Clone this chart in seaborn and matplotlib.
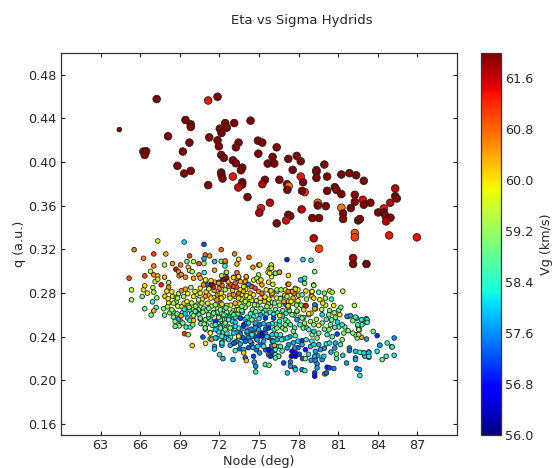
"""Eta vs Sigma Hydrids: node vs q scatter, coloured by geocentric velocity."""

import matplotlib
matplotlib.use("Agg")
import matplotlib.pyplot as plt
import matplotlib.cm as cm
import matplotlib.colors as mcolors
import seaborn as sns

# Large markers (upper group)
big_node = [
    67.25, 71.15, 71.86, 69.43, 69.83, 69.83, 72.44, 73.12, 74.36, 72.56,
    72.03, 72.16, 68.11, 71.23, 69.73, 71.86, 73.45, 73.25, 71.96, 74.92,
    75.25, 74.95, 66.24, 66.45, 66.34, 69.23, 72.14, 72.34, 73.02, 73.25,
    73.73, 73.63, 68.82, 69.33, 69.83, 72.14, 72.16, 72.24, 73.02, 73.73,
    73.73, 73.43, 71.15, 74.13, 76.34, 76.03, 77.86, 77.22, 78.16, 75.66,
    76.16, 77.55, 79.95, 79.35, 79.35, 79.35, 80.16, 81.24, 81.85, 82.36,
    82.94, 78.16, 78.34, 75.45, 75.25, 76.54, 77.12, 77.25, 77.15, 78.46,
    78.26, 80.16, 80.74, 80.87, 81.24, 82.26, 82.86, 82.26, 82.94, 83.44,
    85.32, 85.32, 85.44, 84.94, 79.45, 79.45, 80.06, 81.24, 81.95, 81.37,
    81.37, 84.03, 84.46, 84.46, 84.58, 84.96, 84.63, 82.51, 82.64, 75.83,
    75.15, 75.02, 78.23, 77.22, 77.37, 77.05, 76.34, 79.04, 79.55, 79.15,
    82.26, 82.26, 84.86, 86.96, 79.55, 82.13, 82.13, 83.14,
]
big_q = [
    .4578, .4565, .4599, .4386, .4346, .4322, .4358, .4358, .4380, .4316,
    .4307, .4267, .4237, .4227, .4179, .4200, .4179, .4136, .4145, .4197,
    .4179, .4078, .4097, .4100, .4066, .4097, .4066, .4039, .4017, .3990,
    .3950, .3926, .3966, .3896, .3920, .3905, .3880, .3850, .3868, .3816,
    .3795, .3768, .3789, .3680, .4136, .4048, .4057, .4030, .4008, .3987,
    .3987, .3929, .3978, .3926, .3911, .3856, .3868, .3887, .3899, .3880,
    .3829, .3868, .3816, .3838, .3798, .3838, .3798, .3780, .3746, .3725,
    .3737, .3737, .3771, .3746, .3707, .3701, .3655, .3637, .3610, .3628,
    .3759, .3689, .3667, .3628, .3628, .3603, .3597, .3582, .3579, .3530,
    .3479, .3539, .3576, .3539, .3509, .3491, .3457, .3466, .3479, .3628,
    .3579, .3536, .3567, .3518, .3506, .3466, .3439, .3488, .3488, .3302,
    .3351, .3311, .3329, .3311, .3207, .3122, .3067, .3067,
]
big_vg = [
    62, 61.35, 62, 62, 62, 62, 62, 62, 62, 62,
    62, 62, 62, 62, 62, 62, 62, 62, 62, 62,
    62, 62, 62, 62, 62, 62, 62, 62, 62, 62,
    62, 62, 62, 62, 62, 62, 62, 62, 61.35, 62,
    62, 61.6, 62, 62, 62, 62, 62, 62, 62, 62,
    62, 62, 62, 62, 62, 62, 62, 62, 62, 62,
    62, 61.35, 62, 62, 61.7, 62, 62, 60.7, 62, 61.2,
    62, 62, 62, 62, 62, 62, 61.5, 62, 62, 62,
    61.7, 62, 62, 61.7, 60.7, 62, 62, 60.7, 62, 62,
    62, 62, 61.4, 62, 61.9, 62, 61.7, 62, 62, 61.7,
    61.35, 61.7, 61.7, 62, 62, 61.5, 62, 62, 62, 61.7,
    60.9, 61.1, 61.35, 61.4, 61.0, 61.8, 62, 62,
]

# Small markers (lower group); the first point is the
# lone small dark dot near (64.4, 0.43)
small_node = [
    64.42,
    67.33, 69.33, 70.83, 65.54, 66.25, 67.03, 67.94, 69.74, 70.93, 71.26,
    70.83, 72.14, 73.15, 74.24, 73.46, 73.33, 71.63, 72.14, 72.44, 72.42,
    67.03, 67.84, 68.45, 69.06, 69.54, 70.04, 70.45, 70.83, 69.64, 68.7,
    68.9, 69.74, 69.94, 66.78, 66.35, 65.16, 67.03, 67.33, 67.84, 67.13,
    67.33, 68.95, 69.11, 69.43, 70.04, 70.45, 70.85, 71.63, 72.52, 73.33,
    72.44, 71.94, 71.43, 72.17, 70.95, 71.36, 70.55, 71.05, 73.08, 73.46,
    74.04, 74.47, 73.84, 74.97, 74.54, 67.59, 68.15, 66.25, 66.35, 66.55,
    66.96, 67.03, 65.34, 65.34, 66.15, 67.26, 66.35, 66.93, 67.21, 67.03,
    66.83, 68.15, 68.02, 68.4, 67.87, 68.12, 68.15, 68.73, 69.11, 69.43,
    69.84, 70.04, 68.73, 69.33, 68.07, 67.77, 68.4, 67.84, 72.44, 72.54,
    75.93, 75.78, 75.68, 76.56, 76.23, 77.22, 77.12, 78.33, 78.94, 79.22,
    78.46, 78.15, 78.46, 77.19, 77.75, 79.14, 77.45, 77.65, 75.85, 76.36,
    75.98, 76.64, 79, 78.96, 78.26, 76.18, 75.42, 77.55, 76.99, 78.51,
    79.27, 77.19, 74.97, 74.84, 74.97, 74.03, 73.96, 74.41, 74.21, 74.71,
    75.22, 74.97, 74.59, 75.09, 75.22, 74.66, 75.6, 73.32, 73.2, 73.07,
    73.45, 73.07, 72.56, 72.24, 71.93, 72.44, 73.58, 73.83, 73.45, 73.07,
    72.14, 72.14, 73.45, 73.96, 73.2, 72.19, 72.56, 73.7, 72.8, 74.3,
    69.36, 69.64, 69.94, 70.95, 70.75, 71.31, 71.43, 71.81, 71.63, 71.63,
    72.19, 72.19, 72.44, 72.01, 72.27, 73.03, 72.82, 73.2, 73.13, 73.46,
    73.58, 73.96, 73.84, 73.84, 73.96, 74.04, 74.54, 74.59, 75.05, 74.64,
    74.75, 74.75, 75.48, 75.76, 75.73, 75.99, 75.73, 76.24, 76.16, 76.49,
    75.86, 77.15, 78.26, 78.47, 79.22, 79.22, 79.98, 80.11, 76.87, 77.38,
    77.38, 77.71, 77.76, 78.52, 79.22, 79.27, 79.4, 79.4, 79.78, 79.91,
    80.16, 80.67, 80.34, 80.87, 80.87, 81.35, 81.63, 81.85, 81.85, 82.31,
    82.31, 82.64, 82.94, 83.32, 83.02, 83.32, 82.41, 82.31, 82.61, 82.64,
    83.95, 84.16, 84.71, 85.04, 84.64, 84.33, 85.24, 85.24, 83.95, 83.65,
    83.14, 82.77, 82.44, 82.31, 82.11, 82.61, 82.51, 83.12, 83.12, 82.77,
    82.39, 82.11, 81.73, 81.12, 80.79, 80.94, 81.3, 81.42, 81.3, 80.92,
    80.79, 81.17, 80.74, 80.34, 80.16, 80.41, 80.74, 80.29, 79.78, 79.78,
    79.53, 79.15, 78.64, 78.77, 78.39, 79.27, 78.57, 77.2, 77.88, 76.57,
    77.25, 79.15, 81.35, 80.36, 79.52, 79.95, 80.54, 79.02, 79.02, 79.15,
    80.03, 80.49, 80.66, 79.83, 82.23, 79.22, 79.22, 78.94, 78.39, 78.77,
    77.88, 78.13, 76.87, 77.25, 77.63, 77.75, 77.5, 77.2, 77.12, 77.58,
    77.43, 77.2, 75.98, 76.36, 75.91, 76.67, 76.62, 76.24, 76.54, 75.05,
    75.93, 75.93, 75.81, 75.73, 75.15, 81.67, 81.93, 82.31, 82.76, 83.19,
    83.19, 82.8, 82.48, 82.56, 82.56, 85.09, 84.15, 83.32, 82.94, 83.32,
    68.52, 68.65, 68.65, 68.9, 69.11, 69.33, 69.74, 69.41, 69.6, 69.23,
    69.48, 69.79, 69.99, 69.75, 70.04, 70.04, 70.24, 70.55, 70.93, 70.85,
    70.93, 71.31, 71.69, 71.18, 71.56, 71.94, 71.69, 72.07, 72.44, 72.07,
    72.44, 72.07, 72.7, 72.95, 73.33, 73.2, 73.58, 73.84, 73.46, 72.95,
    73.08, 72.57, 73.46, 73.08, 72.7, 72.19, 72.19, 71.69, 74.1, 74.1,
    74.47, 74.72, 74.85, 74.1, 74.47, 74.85, 77, 77, 77.38, 77.6,
    77.13, 77.25, 77.13, 77.5, 77.76, 77.71, 77.45, 77.76, 78.26, 78.52,
    78.57, 78.26, 79.27, 79.65, 79.15, 79.53, 79.4, 79.02, 78.77, 79.15,
    79.53, 76.49, 76.24, 76.49, 76.24, 76.7, 76.62, 77.5, 77.88, 78.26,
    70.17, 70.55, 71.18, 71.56, 71.94, 72.32, 72.7, 73.08, 73.46, 73.84,
    73.58, 74.21, 74.72, 75.1, 75.48, 75.73, 76.11, 76.36, 75.23, 75.23,
    74.97, 75.73, 75.99, 74.47, 74.09, 72.82, 73.2, 72.44, 72.07, 71.69,
    70.93, 74.34, 74.85, 75.35, 76.36, 76.07, 76.62, 75.35, 74.9, 75.6,
    70.8, 71.43, 71.94, 70.55, 70.93, 71.36, 71.81, 71.11, 71.69, 70.68,
    70.42, 69.54, 69.29, 68.83, 68.53, 69.7, 70.2, 71.2, 72.5, 73.7,
]
small_q = [
    .4298,
    .3278, .3268, .3247, .3198, .3119, .3159, .3159, .3141, .3150, .3141,
    .3116, .3198, .3159, .3128, .3110, .3067, .3089, .3092, .3083, .3049,
    .3049, .3058, .3071, .3058, .3089, .3089, .3071, .3071, .3037, .3019,
    .2997, .3007, .2997, .3000, .2958, .2937, .2967, .2958, .2946, .2906,
    .2927, .2958, .2970, .2946, .2937, .2967, .2988, .3010, .2988, .2988,
    .2927, .2900, .2882, .2958, .2921, .2915, .2937, .2876, .2946, .2946,
    .2946, .2860, .2860, .3058, .3037, .2876, .2897, .2830, .2867, .2800,
    .2851, .2809, .2830, .2739, .2769, .2757, .2657, .2720, .2669, .2638,
    .2599, .2854, .2818, .2812, .2772, .2748, .2708, .2760, .2821, .2836,
    .2851, .2769, .2723, .2708, .2675, .2657, .2647, .2599, .3095, .2991,
    .3049, .3021, .2991, .2991, .2982, .2961, .3107, .3107, .3101, .2997,
    .2936, .2921, .2890, .2881, .2845, .2875, .2815, .2799, .2821, .2815,
    .2784, .2754, .2815, .2778, .2784, .2708, .2723, .2708, .2699, .2687,
    .2687, .2678, .2967, .2936, .2906, .2951, .2906, .2860, .2881, .2845,
    .2875, .2815, .2784, .2754, .2799, .2693, .2678, .2936, .2891, .2860,
    .2951, .2942, .2942, .2921, .2891, .2830, .2830, .2815, .2799, .2784,
    .2799, .2754, .2754, .2723, .2708, .2699, .2687, .2678, .2754, .2760,
    .2428, .2419, .2319, .2340, .2398, .2440, .2379, .2389, .2312, .2288,
    .2352, .2322, .2389, .2236, .2200, .2191, .2322, .2273, .2343, .2389,
    .2334, .2358, .2282, .2252, .2206, .2182, .2303, .2221, .2252, .2169,
    .2130, .2078, .2145, .2139, .2236, .2267, .2282, .2236, .2322, .2221,
    .2221, .2069, .2099, .2090, .2069, .2039, .2060, .2069, .2160, .2169,
    .2130, .2115, .2099, .2200, .2221, .2182, .2151, .2115, .2191, .2221,
    .2121, .2109, .2115, .2242, .2200, .2230, .2160, .2297, .2273, .2206,
    .2267, .2258, .2252, .2261, .2221, .2212, .2109, .2191, .2099, .2045,
    .2267, .2322, .2343, .2309, .2221, .2191, .2230, .2389, .2410, .2449,
    .2379, .2395, .2389, .2419, .2434, .2465, .2495, .2535, .2565, .2556,
    .2571, .2547, .2586, .2602, .2577, .2535, .2510, .2434, .2373, .2425,
    .2343, .2328, .2297, .2343, .2419, .2510, .2486, .2602, .2602, .2526,
    .2504, .2510, .2480, .2602, .2577, .2656, .2684, .2669, .2632, .2593,
    .2882, .2870, .2818, .2821, .2809, .2800, .2809, .2815, .2769, .2754,
    .2754, .2745, .2687, .2708, .2687, .2693, .2657, .2617, .2647, .2611,
    .2636, .2580, .2724, .2724, .2800, .2836, .2815, .2815, .2769, .2754,
    .2724, .2684, .2800, .2830, .2821, .2830, .2748, .2982, .2991, .3058,
    .3058, .3028, .2982, .2900, .2921, .2587, .2593, .2580, .2556, .2556,
    .2532, .2510, .2510, .2465, .2419, .2306, .2322, .2252, .2252, .2221,
    .2580, .2541, .2495, .2562, .2593, .2653, .2647, .2611, .2571, .2526,
    .2489, .2489, .2510, .2550, .2550, .2593, .2632, .2562, .2556, .2516,
    .2471, .2434, .2465, .2580, .2623, .2587, .2541, .2647, .2593, .2556,
    .2526, .2495, .2571, .2617, .2647, .2580, .2571, .2510, .2480, .2480,
    .2434, .2434, .2404, .2343, .2374, .2404, .2343, .2389, .2580, .2526,
    .2556, .2526, .2465, .2434, .2404, .2374, .2510, .2465, .2510, .2450,
    .2389, .2328, .2297, .2267, .2252, .2297, .2221, .2221, .2364, .2282,
    .2373, .2328, .2267, .2282, .2328, .2328, .2389, .2419, .2465, .2449,
    .2434, .2312, .2282, .2221, .2206, .2373, .2419, .2602, .2556, .2571,
    .2632, .2571, .2602, .2617, .2577, .2602, .2556, .2602, .2647, .2504,
    .2571, .2526, .2480, .2602, .2571, .2510, .2571, .2480, .2434, .2404,
    .2465, .2480, .2419, .2419, .2449, .2480, .2495, .2465, .2480, .2510,
    .2480, .2358, .2373, .2358, .2373, .2358, .2312, .2312, .2312, .2400,
    .2875, .2875, .2891, .2799, .2769, .2754, .2738, .2708, .2693, .2708,
    .2738, .2723, .2769, .2754, .2708, .2670, .2680, .2660, .2665, .2640,
]
small_vg = [
    62,
    59.6, 58.1, 57.2, 60.7, 60.6, 61, 60.3, 61, 60.9, 60.5,
    57.8, 60.8, 60.6, 60.8, 60, 60.3, 57.9, 59, 58.5, 58.5,
    60.6, 59.4, 60.5, 60.6, 58.9, 59.3, 61, 59.4, 60.1, 61.4,
    60.6, 59.9, 59.3, 59.6, 61, 61, 60.5, 60.2, 60.3, 59.6,
    60, 60.5, 60.6, 60.5, 60.4, 60.6, 58.4, 60.4, 59.6, 60.8,
    61.8, 61, 61.7, 59.3, 59.8, 60, 60.3, 57.3, 60, 60,
    60.5, 60.8, 60, 60.1, 60.5, 61.3, 59.3, 60, 60.1, 60,
    59.5, 59.3, 59.5, 59.3, 58.9, 59.1, 59, 58.6, 58.7, 60.3,
    59.1, 60.5, 60, 60, 60.2, 59.9, 60, 59.3, 60.6, 60.4,
    59.3, 60, 59, 60, 59.4, 59, 59.2, 58.8, 60.6, 59.2,
    60, 59.5, 59.9, 60.4, 58.7, 60, 57, 58.1, 58.5, 59.2,
    58.6, 58, 59, 60.5, 59.9, 60, 60, 60.3, 60.1, 59.3,
    60.6, 59.2, 59.8, 59.3, 58.6, 59, 60.2, 59.5, 57.4, 61.3,
    58.5, 58.4, 59.2, 59.3, 60, 60.3, 60.5, 60.8, 57.6, 61,
    60.4, 60.6, 60, 59.9, 60.8, 59.2, 59.3, 60.7, 60.7, 61,
    60, 60.1, 61.8, 61.8, 60.6, 59.3, 60, 60.4, 60.9, 60.5,
    60.1, 60, 60.1, 59.3, 60.3, 60, 59.5, 59, 59.5, 59.6,
    61.1, 59.2, 60.1, 60, 57.3, 59.8, 60.4, 58, 57.8, 58,
    58.2, 57.9, 57.8, 58.4, 57.9, 57.9, 57.8, 58.5, 58.1, 60,
    57.8, 57.4, 57.8, 60.2, 57.4, 60.2, 57.8, 57.2, 57.6, 57.7,
    57.6, 58.4, 58.6, 59, 57.5, 57.2, 56.8, 58.5, 60.4, 58.7,
    57, 58, 57.5, 58.6, 57, 56.8, 57.6, 57.4, 57.2, 57.5,
    57.6, 57.8, 58, 59, 57.8, 57.6, 57.6, 57.7, 57.7, 58,
    57, 57.5, 57.1, 59, 58.5, 58, 57.7, 57.5, 57.4, 58,
    57.9, 58.5, 57.7, 57.9, 58, 58.4, 57.6, 57.8, 57.7, 58.2,
    58.2, 57.7, 58.5, 58.4, 58.5, 58.8, 58.2, 57.6, 57, 58.9,
    57.7, 60.4, 59.2, 59.3, 59, 59.8, 59.4, 58.3, 58.4, 58.5,
    58.6, 59, 57.5, 59.9, 59.1, 58.1, 58.4, 59, 59.2, 57.2,
    57.8, 58.4, 57.7, 58.1, 58.4, 59, 58.5, 59, 58.1, 59,
    59.8, 59.1, 58.5, 59.9, 58.5, 60.4, 61.3, 60.5, 59.9, 60,
    60.5, 59.3, 59.6, 60, 58.6, 59, 59.2, 59.9, 60, 60.1,
    59.2, 58.5, 60, 60, 59.6, 57.6, 60.4, 60, 60, 60,
    59, 59.2, 60.4, 60, 60.4, 60, 60.6, 60.7, 59.3, 60.3,
    60, 60, 60, 59.3, 60.1, 59.3, 59.2, 58.9, 60.5, 60.1,
    59.5, 60, 60, 60, 60, 57.6, 57.7, 58.5, 58.4, 58.3,
    58.5, 58.6, 58.5, 59.3, 59, 58.5, 57.8, 58, 58.1, 58.4,
    59, 59, 58.8, 57.8, 60.3, 58.2, 58.4, 58, 58, 58.9,
    58.5, 58.4, 59, 58.5, 60.2, 59.3, 58.7, 58.5, 59, 59.2,
    58.9, 59.8, 58, 58.5, 59, 59.8, 57, 59.2, 59, 58.6,
    59, 58.6, 58.4, 59, 59.9, 58.5, 57, 57.2, 58.5, 59,
    58, 58.5, 60, 57.3, 58.1, 58.6, 58.2, 58, 58.5, 59,
    59, 57.8, 58, 57.8, 58.1, 57.8, 59, 59.1, 58.5, 59,
    58, 57.8, 57.7, 56.7, 56.8, 57.6, 56.6, 56.5, 57, 56.9,
    58.5, 57.8, 57.8, 57.7, 58.1, 57.8, 59, 59, 58.5, 58,
    59, 59, 58.5, 59, 58.5, 58.5, 58.9, 59, 57.7, 59,
    58.5, 59, 59, 59, 59, 58.5, 58.5, 58.5, 60, 57.1,
    57.3, 58.1, 57.8, 57.8, 57, 57.8, 57.2, 59, 56.7, 56.6,
    57.8, 57, 58, 58.5, 57.8, 59, 58.1, 59, 58.5, 58.5,
    59, 57.8, 57.8, 57.8, 57.8, 57.8, 58.5, 58.5, 58.1, 58,
    60.5, 61.8, 60.5, 59.9, 60.5, 59.9, 60.5, 60, 59.3, 59.3,
    59.3, 59.9, 59.3, 59.3, 59.3, 59, 59.3, 59, 58.8, 58.7,
]

# Centre of the lower cloud, where markers overlap and are only estimates
dense_node = [
    70.3, 70.7, 71.0, 71.6, 72.0, 72.7, 73.0, 73.3, 73.7, 74.0,
    74.35, 74.8, 71.2, 71.55, 71.85, 72.3, 72.75, 73.2, 73.65, 74.05,
    69.9, 70.3, 70.8, 71.0, 71.4, 71.85, 72.1, 72.35, 72.85, 73.05,
    73.35, 73.55, 73.95, 74.2, 74.5, 74.85, 75.15, 75.45, 75.85, 76.25,
    76.55, 76.8, 75.1, 75.75, 76.0, 74.45, 74.1, 77.85, 77.95, 78.2,
    69.2, 69.9, 70.45, 70.75, 71.3, 71.45, 71.85, 72.25, 72.55, 72.8,
    73.0, 73.4, 73.75, 73.95, 74.35, 74.6, 74.75, 75.0, 75.3, 75.55,
    75.85, 76.1, 76.4, 76.75, 77.05, 77.3, 77.65, 77.0, 76.55, 76.25,
    70.6, 71.0, 71.45, 71.9, 72.3, 72.7, 73.2, 73.65, 74.0, 74.4,
    74.75, 75.05, 75.35, 75.5, 76.0, 76.15, 76.55, 76.8, 77.2, 77.7,
    71.3, 71.95, 72.3, 72.55, 72.85, 73.3, 73.6, 73.8, 74.2, 74.55,
    74.75, 75.0, 75.5, 75.7, 76.0, 76.3, 76.85, 77.35, 77.75, 77.95,
    73.3, 73.55, 74.2, 74.45, 74.8, 75.1, 75.5, 75.95, 76.1, 76.75,
    77.6, 77.95, 78.05, 78.3, 78.75, 78.9, 78.95, 79.0, 79.45, 79.95,
    80.1, 80.45, 80.55, 80.3, 79.95, 78.35, 78.45, 78.1, 78.9, 79.35,
    79.75, 80.1, 80.5, 80.05, 80.35, 80.7, 81.05, 81.05, 81.5, 81.75,
    68.85, 69.15, 69.6, 70.0, 70.4, 68.25, 68.5, 68.8, 68.95, 69.05,
    74.6, 75.55, 75.45, 76.05, 75.95, 74.0, 73.6, 72.85, 72.65, 72.2,
    71.55, 72.0, 71.2, 70.55, 70.15, 69.6, 68.9, 68.45, 70.9, 71.65,
    77.0, 76.95, 78.6, 78.55, 78.0, 77.95, 76.35, 75.7, 79.6, 81.2,
]
dense_q = [
    .2790, .2745, .2810, .2825, .2845, .2860, .2825, .2855, .2790, .2835,
    .2800, .2730, .2780, .2760, .2785, .2770, .2780, .2770, .2745, .2775,
    .2710, .2690, .2660, .2640, .2680, .2660, .2705, .2650, .2690, .2640,
    .2680, .2700, .2670, .2700, .2650, .2690, .2660, .2640, .2680, .2650,
    .2690, .2640, .2720, .2745, .2715, .2735, .2740, .2690, .2730, .2690,
    .2620, .2610, .2605, .2625, .2560, .2600, .2625, .2560, .2625, .2585,
    .2540, .2610, .2625, .2560, .2610, .2585, .2630, .2565, .2620, .2605,
    .2625, .2605, .2620, .2590, .2615, .2640, .2600, .2555, .2540, .2515,
    .2520, .2510, .2505, .2520, .2510, .2490, .2530, .2470, .2490, .2470,
    .2510, .2510, .2520, .2470, .2520, .2465, .2505, .2480, .2535, .2480,
    .2380, .2445, .2440, .2400, .2395, .2440, .2425, .2390, .2395, .2430,
    .2395, .2415, .2430, .2395, .2365, .2420, .2380, .2400, .2410, .2360,
    .2360, .2290, .2300, .2340, .2280, .2330, .2280, .2315, .2230, .2270,
    .2345, .2300, .2240, .2200, .2240, .2310, .2185, .2360, .2225, .2295,
    .2335, .2260, .2400, .2465, .2470, .2480, .2525, .2510, .2540, .2560,
    .2650, .2560, .2555, .2690, .2640, .2620, .2645, .2490, .2490, .2455,
    .2680, .2675, .2690, .2650, .2650, .2620, .2630, .2610, .2500, .2545,
    .2920, .2830, .2765, .2880, .2950, .2885, .2905, .2880, .2905, .2870,
    .2855, .2795, .2840, .2845, .2815, .2795, .2795, .2770, .2890, .2900,
    .2830, .2780, .2745, .2820, .2780, .2830, .2755, .2700, .2740, .2670,
]
dense_vg = [
    59.6, 59.9, 60.1, 60.4, 60.6, 60.7, 60.2, 60.9, 59.8, 60.1,
    60.3, 59.6, 60.3, 59.7, 60.2, 59.9, 60.4, 60, 59.6, 59.8,
    59.4, 59.2, 59, 58.8, 59.4, 59.1, 59.6, 58.9, 59.7, 59,
    59.5, 59.9, 59.2, 59.3, 58.8, 59.1, 59, 58.7, 59.2, 58.9,
    59.4, 58.7, 59.5, 59.8, 59.4, 59.7, 59.9, 59.3, 59.6, 59.1,
    58.8, 58.6, 58.7, 59, 58.6, 58.9, 58.9, 58.4, 59, 58.6,
    58.3, 58.8, 58.5, 58, 58.6, 58.2, 58.8, 58.1, 58.6, 58.3,
    58.7, 58.4, 58.5, 58.2, 58.4, 58.8, 59, 58.6, 58.3, 58.6,
    58.6, 58.8, 58.7, 58.6, 58.2, 58.4, 58, 57.7, 58.2, 57.6,
    57.6, 57.4, 57.9, 57.4, 58.2, 58.6, 58.5, 58.8, 59, 58.7,
    58.4, 58.2, 58.3, 58.1, 58.3, 57.8, 57.5, 57.3, 57.6, 57.5,
    57.3, 57.1, 57.6, 57.2, 57.6, 58.2, 58, 57.8, 58.6, 58,
    57.7, 57.3, 57.2, 57.3, 57.5, 57.4, 57.3, 57.6, 57.3, 58.6,
    57.8, 57.4, 57.2, 57.3, 58.2, 57.9, 57.7, 58.4, 57.8, 57.6,
    58.2, 57.8, 58.7, 59.1, 58.8, 58.9, 59.1, 58.6, 59.3, 59.4,
    59.3, 58.4, 59, 59.6, 58.9, 59.2, 58.9, 58.6, 58.8, 59.1,
    59.4, 60, 60.2, 59.3, 59.1, 59, 58.7, 58.9, 59.1, 58.6,
    59.8, 59.7, 59.9, 59.5, 59.7, 60.6, 60.3, 60.9, 60.3, 60.8,
    61.2, 60, 59.4, 60.1, 59.7, 59.8, 59.4, 59.6, 59.9, 60.3,
    59.8, 60.1, 59.4, 60, 60.2, 59.6, 59.8, 59, 60, 58.8,
]

node_ticks = [63, 66, 69, 72, 75, 78, 81, 84, 87]
q_ticks = [0.16, 0.20, 0.24, 0.28, 0.32, 0.36, 0.40, 0.44, 0.48]
vg_ticks = [56.0, 56.8, 57.6, 58.4, 59.2, 60.0, 60.8, 61.6]

FS = 9.2

sns.set_style("ticks")
plt.rcParams["font.family"] = ["DejaVu Sans"]

fig = plt.figure(figsize=(5.52, 4.68), dpi=100)
ax = fig.add_axes([61 / 552, 33 / 468, 396 / 552, 382 / 468])
cax = fig.add_axes([481 / 552, 33 / 468, 20 / 552, 382 / 468])

norm = mcolors.Normalize(vmin=56, vmax=62)
jet = matplotlib.colormaps["jet"]

sns.scatterplot(x=dense_node + small_node, y=dense_q + small_q, hue=dense_vg + small_vg,
                palette=jet, hue_norm=norm, s=11, edgecolor="#222222", linewidth=0.6,
                legend=False, ax=ax)
sns.scatterplot(x=big_node, y=big_q, hue=big_vg, palette=jet, hue_norm=norm,
                s=30, edgecolor="#222222", linewidth=0.6, legend=False, ax=ax)

ax.set_xlim(60, 90)
ax.set_ylim(0.15, 0.50)
ax.set_xticks(node_ticks)
ax.set_yticks(q_ticks)
ax.set_yticklabels([f"{v:.2f}" for v in q_ticks])
ax.tick_params(direction="in", top=True, right=True, length=3.2, width=0.8,
               labelsize=FS, pad=3, color="#222222")
ax.set_xlabel("Node (deg)", fontsize=FS, labelpad=2)
ax.set_ylabel("q (a.u.)", fontsize=FS, labelpad=2)
for sp in ax.spines.values():
    sp.set_linewidth(0.9)
    sp.set_color("#333333")

cb = fig.colorbar(cm.ScalarMappable(norm=norm, cmap=jet), cax=cax)
cb.set_ticks(vg_ticks)
cb.set_ticklabels([f"{v:.1f}" for v in vg_ticks])
cb.ax.tick_params(direction="in", length=3.2, width=0.8, labelsize=FS, pad=3, color="#222222")
cb.set_label("Vg (km/s)", fontsize=FS, labelpad=5)
cb.outline.set_linewidth(0.9)
cb.outline.set_edgecolor("#333333")

fig.text(301.5 / 552, 1 - 20.5 / 468, "Eta vs Sigma Hydrids", fontsize=9.5, ha="center", va="center")

fig.savefig("out.png", dpi=100)
plt.close(fig)
